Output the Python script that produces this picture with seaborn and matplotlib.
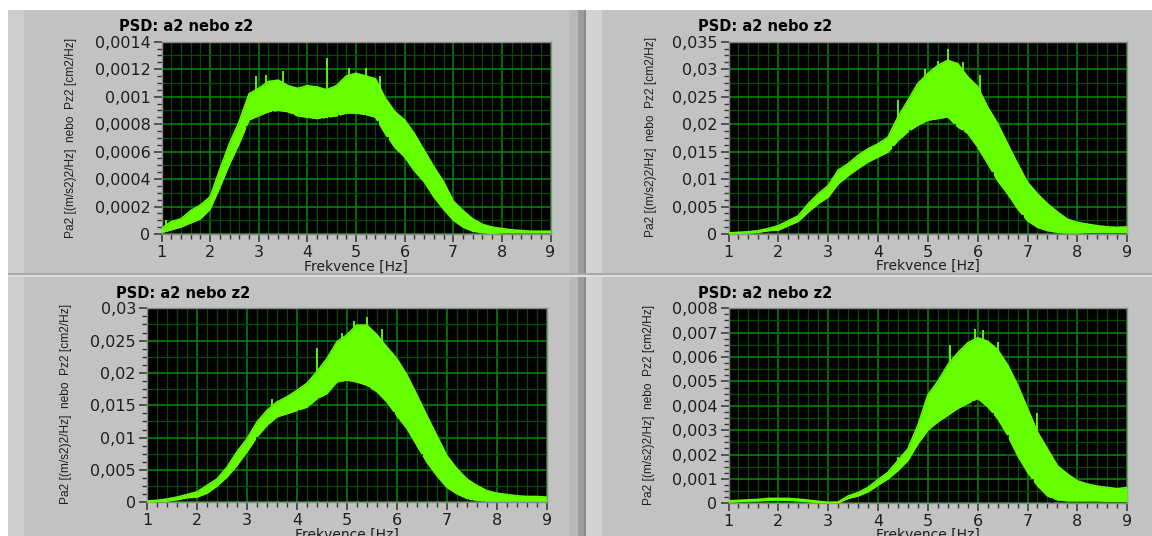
import numpy as np
import matplotlib
matplotlib.use("Agg")
import matplotlib.pyplot as plt
import seaborn as sns
from matplotlib.patches import Rectangle
from matplotlib.ticker import MultipleLocator

# ---------------- data ----------------
freq = [1.0, 1.2, 1.4, 1.6, 1.8, 2.0, 2.2, 2.4, 2.6, 2.8,
        3.0, 3.2, 3.4, 3.6, 3.8, 4.0, 4.2, 4.4, 4.6, 4.8,
        5.0, 5.2, 5.4, 5.6, 5.8, 6.0, 6.2, 6.4, 6.6, 6.8,
        7.0, 7.2, 7.4, 7.6, 7.8, 8.0, 8.2, 8.4, 8.6, 8.8, 9.0]

tl_upper = [0.00004, 0.00009, 0.00011, 0.00017, 0.00021, 0.00027, 0.00047, 0.00066, 0.00082, 0.00102,
            0.00106, 0.00111, 0.00112, 0.00108, 0.00106, 0.00108, 0.00107, 0.00105, 0.00108, 0.00115,
            0.00117, 0.00115, 0.00113, 0.00099, 0.00089, 0.00083, 0.00073, 0.00061, 0.00049, 0.00038,
            0.00024, 0.00017, 0.00011, 0.00007, 0.00005, 0.00004, 0.00003, 0.000025, 0.00002, 0.00002, 0.00002]
tl_lower = [0.00001, 0.00003, 0.00005, 0.00008, 0.00011, 0.00018, 0.00034, 0.00051, 0.00066, 0.00083,
            0.00086, 0.00089, 0.00090, 0.00089, 0.00086, 0.00085, 0.00084, 0.00085, 0.00086, 0.00088,
            0.00088, 0.00087, 0.00085, 0.00073, 0.00063, 0.00056, 0.00046, 0.00038, 0.00027, 0.00018,
            0.00010, 0.00005, 0.00002, 0.00001, 0.000005, 0.00001, 0.00001, 0.00001, 0.00001, 0.00001, 0.00001]
tl_spike_x = [1.1, 2.95, 3.15, 3.5, 4.4, 4.85, 5.2, 5.5]
tl_spike_y = [0.00010, 0.00115, 0.00116, 0.00119, 0.00128, 0.00121, 0.00121, 0.00115]
tl_notch_x = [2.75, 3.3, 3.7, 4.3, 4.45, 4.65, 5.45, 5.65]
tl_notch_y = [0.00071, 0.00081, 0.00080, 0.00080, 0.00081, 0.00079, 0.00063, 0.00062]

tr_upper = [0.0002, 0.0003, 0.0004, 0.0006, 0.0010, 0.0015, 0.0024, 0.0033, 0.0055, 0.0073,
            0.0088, 0.0116, 0.0128, 0.0143, 0.0155, 0.0164, 0.0176, 0.0213, 0.0243, 0.0274,
            0.0292, 0.0307, 0.0316, 0.0310, 0.0286, 0.0268, 0.0231, 0.0201, 0.0164, 0.0128,
            0.0094, 0.0073, 0.0055, 0.0040, 0.0027, 0.0021, 0.0018, 0.0015, 0.0013, 0.0012, 0.0013]
tr_lower = [0.0000, 0.0001, 0.0002, 0.0003, 0.0006, 0.0007, 0.0015, 0.0023, 0.0040, 0.0055,
            0.0067, 0.0091, 0.0106, 0.0119, 0.0131, 0.0140, 0.0149, 0.0170, 0.0186, 0.0198,
            0.0207, 0.0210, 0.0213, 0.0195, 0.0183, 0.0158, 0.0128, 0.0097, 0.0073, 0.0046,
            0.0024, 0.0012, 0.0006, 0.0003, 0.0002, 0.0002, 0.0003, 0.0003, 0.0003, 0.0003, 0.0003]
tr_spike_x = [4.4, 4.95, 5.2, 5.4, 5.7, 6.05]
tr_spike_y = [0.0243, 0.0300, 0.0315, 0.0336, 0.0313, 0.0290]
tr_notch_x = [4.3, 4.65, 5.55, 5.7, 6.3, 6.9]
tr_notch_y = [0.0145, 0.0168, 0.0185, 0.0176, 0.0103, 0.0030]

bl_upper = [0.0002, 0.0003, 0.0005, 0.0008, 0.0012, 0.0016, 0.0026, 0.0036, 0.0054, 0.0078,
            0.0098, 0.0124, 0.0142, 0.0155, 0.0163, 0.0173, 0.0184, 0.0202, 0.0222, 0.0248,
            0.0259, 0.0274, 0.0274, 0.0259, 0.0240, 0.0222, 0.0197, 0.0166, 0.0134, 0.0103,
            0.0072, 0.0052, 0.0036, 0.0026, 0.0018, 0.0014, 0.0012, 0.0010, 0.0009, 0.0009, 0.0008]
bl_lower = [0.0000, 0.0001, 0.0002, 0.0004, 0.0007, 0.0008, 0.0014, 0.0025, 0.0039, 0.0057,
            0.0078, 0.0101, 0.0119, 0.0132, 0.0137, 0.0142, 0.0147, 0.0160, 0.0168, 0.0186,
            0.0189, 0.0186, 0.0181, 0.0171, 0.0155, 0.0134, 0.0114, 0.0088, 0.0062, 0.0041,
            0.0023, 0.0013, 0.0006, 0.0003, 0.0002, 0.0002, 0.0002, 0.0002, 0.0002, 0.0002, 0.0002]
bl_spike_x = [3.5, 4.4, 4.9, 5.15, 5.4, 5.7]
bl_spike_y = [0.0160, 0.0238, 0.0262, 0.0281, 0.0287, 0.0268]
bl_notch_x = [3.2, 4.05, 4.45, 5.45, 5.95, 6.5]
bl_notch_y = [0.0093, 0.0135, 0.0141, 0.0160, 0.0125, 0.0072]

br_upper = [0.00010, 0.00012, 0.00014, 0.00016, 0.00020, 0.00020, 0.00020, 0.00017, 0.00013, 0.00008,
            0.00004, 0.00005, 0.00030, 0.00044, 0.00065, 0.00097, 0.00127, 0.00175, 0.00223, 0.00320,
            0.00444, 0.00500, 0.00568, 0.00617, 0.00658, 0.00679, 0.00665, 0.00630, 0.00568, 0.00486,
            0.00389, 0.00292, 0.00223, 0.00154, 0.00120, 0.00092, 0.00079, 0.00070, 0.00065, 0.00060, 0.00065]
br_lower = [0.00005, 0.00007, 0.00009, 0.00010, 0.00012, 0.00013, 0.00012, 0.00010, 0.00007, 0.00003,
            0.00001, 0.00002, 0.00020, 0.00030, 0.00047, 0.00074, 0.00100, 0.00134, 0.00175, 0.00244,
            0.00300, 0.00334, 0.00361, 0.00389, 0.00410, 0.00430, 0.00396, 0.00348, 0.00279, 0.00196,
            0.00127, 0.00072, 0.00030, 0.00014, 0.00010, 0.00010, 0.00010, 0.00010, 0.00008, 0.00008, 0.00008]
br_spike_x = [4.4, 5.45, 5.95, 6.1, 6.4, 7.2]
br_spike_y = [0.0019, 0.0065, 0.00715, 0.0071, 0.0066, 0.0037]
br_notch_x = [5.9, 6.3, 6.6, 7.1, 7.5]
br_notch_y = [0.0038, 0.0032, 0.0020, 0.0008, 0.0000]

xticks = [1, 2, 3, 4, 5, 6, 7, 8, 9]
xtick_labels = ["1", "2", "3", "4", "5", "6", "7", "8", "9"]

tl_yticks = [0, 0.0002, 0.0004, 0.0006, 0.0008, 0.001, 0.0012, 0.0014]
tl_ylabels = ["0", "0,0002", "0,0004", "0,0006", "0,0008", "0,001", "0,0012", "0,0014"]
tr_yticks = [0, 0.005, 0.01, 0.015, 0.02, 0.025, 0.03, 0.035]
tr_ylabels = ["0", "0,005", "0,01", "0,015", "0,02", "0,025", "0,03", "0,035"]
bl_yticks = [0, 0.005, 0.01, 0.015, 0.02, 0.025, 0.03]
bl_ylabels = ["0", "0,005", "0,01", "0,015", "0,02", "0,025", "0,03"]
br_yticks = [0, 0.001, 0.002, 0.003, 0.004, 0.005, 0.006, 0.007, 0.008]
br_ylabels = ["0", "0,001", "0,002", "0,003", "0,004", "0,005", "0,006", "0,007", "0,008"]

title_text = "PSD: a2 nebo z2"
xlabel_text = "Frekvence [Hz]"
ylabel_text = "Pa2 [(m/s2)2/Hz]  nebo  Pz2 [cm2/Hz]"

# ---------------- style ----------------
sns.set_theme(style="dark")
plt.rcParams["font.family"] = ["DejaVu Sans"]

W, H = 1152, 536
GREEN = "#66ff00"
MAJ = "#008c00"
MIN = "#004c00"
PANEL = "#c2c2c2"

fig = plt.figure(figsize=(W / 100, H / 100), dpi=100, facecolor=PANEL)


def rect(x0, y0, x1, y1, color):
    fig.add_artist(Rectangle((x0 / W, 1 - y1 / H), (x1 - x0) / W, (y1 - y0) / H,
                             transform=fig.transFigure, facecolor=color,
                             edgecolor="none", zorder=0))


# window decorations
rect(0, 0, W, 10, "white")
rect(0, 0, 8, H, "white")
rect(8, 10, 24, H, "#cdcdcd")
rect(570, 10, 578, H, "#b8b8b8")
rect(578, 10, 584, H, "#9c9c9c")
rect(584, 10, 586, H, "#8a8a8a")
rect(586, 10, 602, H, "#d2d2d2")
rect(8, 273, W, 275, "#a9a9a9")
rect(8, 275, W, 277, "#dedede")

panels = [
    dict(box=(161.5, 41.7, 550.5, 234.0), up=tl_upper, lo=tl_lower, sx=tl_spike_x, sy=tl_spike_y,
         nx=tl_notch_x, ny=tl_notch_y,
         yt=tl_yticks, yl=tl_ylabels, title=(119, 26.5), ylab=(71, 138), xlab_y=259.5),
    dict(box=(728.5, 41.7, 1127.2, 234.0), up=tr_upper, lo=tr_lower, sx=tr_spike_x, sy=tr_spike_y,
         nx=tr_notch_x, ny=tr_notch_y,
         yt=tr_yticks, yl=tr_ylabels, title=(697.5, 26.5), ylab=(651, 137), xlab_y=259.0),
    dict(box=(147.0, 308.3, 546.8, 502.3), up=bl_upper, lo=bl_lower, sx=bl_spike_x, sy=bl_spike_y,
         nx=bl_notch_x, ny=bl_notch_y,
         yt=bl_yticks, yl=bl_ylabels, title=(116.5, 294), ylab=(66.5, 404), xlab_y=527.5),
    dict(box=(728.5, 308.3, 1127.2, 503.3), up=br_upper, lo=br_lower, sx=br_spike_x, sy=br_spike_y,
         nx=br_notch_x, ny=br_notch_y,
         yt=br_yticks, yl=br_ylabels, title=(697.5, 294), ylab=(649, 405), xlab_y=528.0),
]

for p in panels:
    l, t, r, b = p["box"]
    ax = fig.add_axes([l / W, 1 - b / H, (r - l) / W, (b - t) / H])
    ax.set_facecolor("black")
    ax.set_axisbelow(True)

    ax.fill_between(freq, p["lo"], p["up"], color=GREEN, lw=0, zorder=3)
    sns.lineplot(x=freq, y=p["up"], ax=ax, color=GREEN, lw=1.2, zorder=3, legend=False)
    sns.lineplot(x=freq, y=p["lo"], ax=ax, color=GREEN, lw=1.0, zorder=3, legend=False)
    base = np.interp(p["sx"], freq, p["up"])
    ax.vlines(p["sx"], base, p["sy"], color=GREEN, lw=1.3, zorder=3)
    nbase = np.interp(p["nx"], freq, p["lo"])
    ax.vlines(p["nx"], p["ny"], nbase, color="black", lw=1.1, zorder=3.5)

    ymax = p["yt"][-1]
    ystep = p["yt"][1] - p["yt"][0]
    ax.set_xlim(1, 9)
    ax.set_ylim(0, ymax)
    ax.set_xticks(xticks)
    ax.set_xticklabels(xtick_labels)
    ax.set_yticks(p["yt"])
    ax.set_yticklabels(p["yl"])
    ax.xaxis.set_minor_locator(MultipleLocator(0.2))
    ax.yaxis.set_minor_locator(MultipleLocator(ystep / 4))

    ax.grid(which="major", color=MAJ, lw=1.1)
    ax.grid(which="minor", axis="x", color=MIN, lw=0.9)
    ax.grid(which="minor", axis="y", visible=False)
    for m in p["yt"][:-1]:
        ax.axhline(m + ystep / 2, color=MIN, lw=0.9, zorder=0.6)

    ax.tick_params(which="major", direction="out", length=6, width=1.1,
                   color="#333333", labelsize=11.5, labelcolor="#1e1e1e", pad=2,
                   left=True, bottom=True)
    ax.tick_params(which="minor", direction="out", length=3.5, width=1.0,
                   color="#333333", left=True, bottom=True)
    for s in ax.spines.values():
        s.set_color("#8a8a8a")
        s.set_linewidth(1.0)
    ax.set_xlabel("")
    ax.set_ylabel("")

    fig.text(p["title"][0] / W, 1 - p["title"][1] / H, title_text, fontsize=10.5,
             fontweight="bold", color="black", ha="left", va="center")
    fig.text(p["ylab"][0] / W, 1 - p["ylab"][1] / H, ylabel_text, fontsize=8.6,
             family=["Liberation Sans", "DejaVu Sans"], color="#1e1e1e",
             rotation=90, ha="center", va="center")
    fig.text(((l + r) / 2) / W, 1 - p["xlab_y"] / H, xlabel_text, fontsize=10,
             color="#1e1e1e", ha="center", va="top")

fig.savefig("out.png", dpi=100, facecolor=fig.get_facecolor())
